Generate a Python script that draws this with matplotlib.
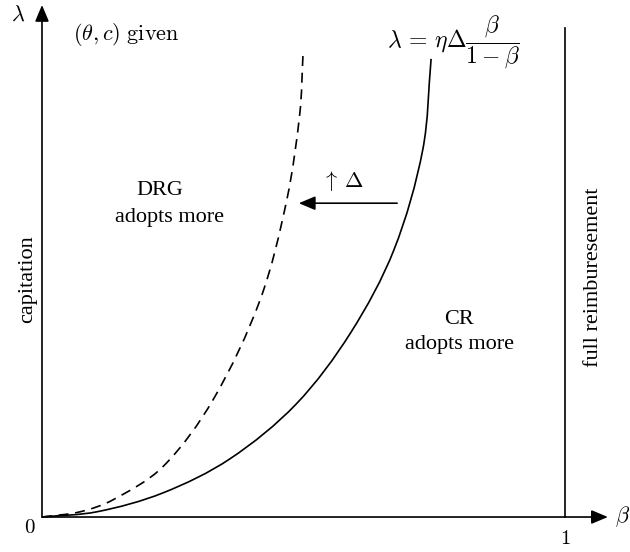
import numpy as np
import matplotlib.pyplot as plt
from matplotlib.path import Path
from matplotlib.patches import PathPatch

plt.rcParams['mathtext.fontset'] = 'cm'
serif = 'Liberation Serif'

# points (beta, lambda)
beta_cr = [0, 0.105, 0.231, 0.359, 0.486, 0.590, 0.673, 0.728, 0.744]
lam_cr = [0, 0.010, 0.046, 0.111, 0.216, 0.352, 0.511, 0.702, 0.876]

beta_drg = [0, 0.073, 0.136, 0.231, 0.327, 0.417, 0.468, 0.493, 0.499]
lam_drg = [0, 0.010, 0.033, 0.096, 0.224, 0.415, 0.606, 0.772, 0.883]

full_reimb = 1.0
full_top = 0.935


def smooth_path(xs, ys):
    # one smooth bezier through the read points (chord-weighted tangents)
    p = np.column_stack([xs, ys]).astype(float)
    n = len(p)
    d = np.hypot(*np.diff(p, axis=0).T)
    m = np.zeros_like(p)
    m[0] = (p[1] - p[0]) / d[0]
    m[-1] = (p[-1] - p[-2]) / d[-1]
    for i in range(1, n - 1):
        m[i] = (p[i + 1] - p[i - 1]) / (d[i - 1] + d[i])
    verts = [p[0]]
    codes = [Path.MOVETO]
    for i in range(n - 1):
        verts += [p[i] + m[i] * d[i] / 3, p[i + 1] - m[i + 1] * d[i] / 3, p[i + 1]]
        codes += [Path.CURVE4] * 3
    return Path(verts, codes)


fig = plt.figure(figsize=(6.3, 5.52), dpi=100)
ax = fig.add_axes([0, 0, 1, 1])
ax.set_xlim(-0.0803, 1.1243)
ax.set_ylim(-0.0669, 0.9885)
ax.axis('off')

arr = dict(arrowstyle='-|>,head_length=1.0,head_width=0.42', lw=1.2,
           color='k', shrinkA=0, shrinkB=0)
# axes with arrow heads
ax.annotate('', xy=(1.082, 0), xytext=(0, 0), arrowprops=arr)
ax.annotate('', xy=(0, 0.979), xytext=(0, 0), arrowprops=arr)

# curves
ax.add_patch(PathPatch(smooth_path(beta_cr, lam_cr), fill=False,
                       edgecolor='k', lw=1.2))
ax.add_patch(PathPatch(smooth_path(beta_drg, lam_drg), fill=False,
                       edgecolor='k', lw=1.2, linestyle=(0, (6, 4))))
ax.plot([full_reimb, full_reimb], [0, full_top], color='k', lw=1.2)

# shift arrow
ax.annotate('', xy=(0.491, 0.600), xytext=(0.679, 0.600), arrowprops=arr)
ax.text(0.576, 0.643, r'$\uparrow\,\Delta$', fontsize=16, ha='center', va='center')

# labels
ax.text(-0.046, 0.960, r'$\lambda$', fontsize=16, ha='center', va='center')
ax.text(1.110, 0.0, r'$\beta$', fontsize=16, ha='center', va='center')
ax.text(-0.023, -0.020, r'$0$', fontsize=15, ha='center', va='center')
ax.text(1.0, -0.040, r'$1$', fontsize=15, ha='center', va='center')
ax.text(0.059, 0.923, r'$(\theta, c)\ \mathrm{given}$', fontsize=16,
        ha='left', va='center')
ax.text(0.660, 0.907, r'$\lambda\,=\,\eta\Delta\dfrac{\beta}{1-\beta}$',
        fontsize=17, ha='left', va='center')

ax.text(0.225, 0.625, 'DRG', fontsize=16, ha='center', va='center', family=serif)
ax.text(0.243, 0.573, 'adopts more', fontsize=16, ha='center', va='center', family=serif)
ax.text(0.797, 0.377, 'CR', fontsize=16, ha='center', va='center', family=serif)
ax.text(0.799, 0.329, 'adopts more', fontsize=16, ha='center', va='center', family=serif)

ax.text(-0.027, 0.455, 'capitation', fontsize=16, ha='center', va='center',
        rotation=90, family=serif)
ax.text(1.054, 0.459, 'full reimburesement', fontsize=16, ha='center',
        va='center', rotation=90, family=serif)

fig.savefig('out.png', dpi=100)
